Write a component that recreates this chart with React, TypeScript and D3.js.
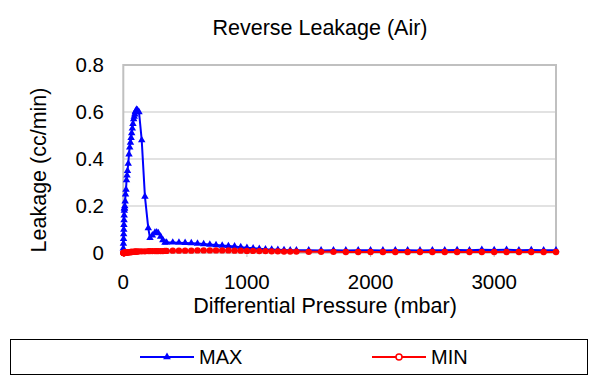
import React from "react";
import * as d3 from "d3";

const pressures = [
  0, 1, 2, 3, 4, 5, 6, 7, 8, 9, 10, 12, 15, 18, 22, 26, 30, 34, 40, 46, 52, 58, 63, 68, 73, 78, 84, 89, 93, 97, 102, 108, 115, 127,
  149, 175, 202, 216, 235, 256, 270, 283, 302, 320, 337,
  350, 400, 450, 500, 550, 600, 650, 700, 750, 800, 850, 900, 950, 1000, 1050, 1100, 1150, 1200, 1250, 1300, 1350, 1400,
  1500, 1600, 1700, 1800, 1900, 2000, 2100, 2200, 2300, 2400, 2500, 2600, 2700, 2800, 2900, 3000, 3100, 3200, 3300, 3400, 3500,
];

const maxValues = [
  0.02, 0.04, 0.06, 0.08, 0.1, 0.12, 0.14, 0.16, 0.18, 0.19, 0.19, 0.2, 0.22, 0.25, 0.27, 0.31, 0.33, 0.35, 0.38, 0.42, 0.45, 0.47, 0.49, 0.51, 0.53, 0.55, 0.57, 0.58, 0.59, 0.6, 0.605, 0.61, 0.607, 0.6,
  0.48, 0.24, 0.106, 0.064, 0.075, 0.087, 0.088, 0.085, 0.07, 0.055, 0.044,
  0.045, 0.045, 0.044, 0.043, 0.042, 0.04, 0.038, 0.036, 0.034, 0.032, 0.03, 0.028, 0.025, 0.022, 0.02, 0.018, 0.016, 0.015, 0.014, 0.013, 0.012, 0.012,
  0.012, 0.011, 0.012, 0.011, 0.012, 0.012, 0.011, 0.012, 0.012, 0.011, 0.012, 0.012, 0.013, 0.012, 0.014, 0.013, 0.014, 0.012, 0.013, 0.012, 0.012,
];

const minValues = [
  0, 0, 0, 0, 0, 0, 0, 0, 0, 0, 0, 0, 0.001, 0.001, 0.001, 0.002, 0.002, 0.002, 0.003, 0.003, 0.003, 0.004, 0.004, 0.004, 0.005, 0.005, 0.005, 0.005, 0.006, 0.006, 0.006, 0.006, 0.006, 0.007,
  0.007, 0.007, 0.008, 0.008, 0.008, 0.008, 0.008, 0.008, 0.008, 0.008, 0.009,
  0.009, 0.01, 0.01, 0.01, 0.01, 0.011, 0.011, 0.011, 0.011, 0.011, 0.011, 0.01, 0.01, 0.009, 0.009, 0.008, 0.008, 0.007, 0.007, 0.006, 0.006, 0.006,
  0.005, 0.005, 0.005, 0.004, 0.004, 0.004, 0.004, 0.004, 0.004, 0.004, 0.004, 0.004, 0.004, 0.004, 0.004, 0.004, 0.004, 0.004, 0.004, 0.004, 0.004,
];

const yTicks = [0, 0.2, 0.4, 0.6, 0.8];
const xTicks = [0, 1000, 2000, 3000];
const seriesNames = ["MAX", "MIN"];
const titleText = "Reverse Leakage (Air)";
const xLabel = "Differential Pressure (mbar)";
const yLabel = "Leakage (cc/min)";

const W = 599;
const H = 376;
const left = 123.3;
const right = 556;
const top = 65;
const bottom = 253;
const font = "'Liberation Sans', Arial, sans-serif";

export default function App() {
  const x = d3.scaleLinear().domain([0, 3500]).range([left, right]);
  const y = d3.scaleLinear().domain([0, 0.8]).range([bottom, top]);
  const maxPts: [number, number][] = pressures.map((p, i) => [x(p), y(maxValues[i])]);
  const minPts: [number, number][] = pressures.map((p, i) => [x(p), y(minValues[i])]);
  const line = d3.line();
  const tri = d3.symbol().type(d3.symbolTriangle).size(24)() as string;
  const triLeg = d3.symbol().type(d3.symbolTriangle).size(26)() as string;

  return (
    <svg width={W} height={H} style={{ position: "absolute", left: 0, top: 0, background: "#fff" }}>
      <text x={320} y={35} textAnchor="middle" fontFamily={font} fontSize={21.5} fill="#000">
        {titleText}
      </text>
      {yTicks.map((t) =>
        t > 0 ? (
          <line key={"g" + t} x1={left} x2={right} y1={y(t)} y2={y(t)} stroke="#d9d9d9" strokeWidth={1.5} />
        ) : null
      )}
      <path
        d={`M${left},${bottom}V${top}H${right}V${bottom}`}
        fill="none"
        stroke="#c0c0c0"
        strokeWidth={2}
      />
      <line x1={left} x2={right} y1={bottom} y2={bottom} stroke="#c0c0c0" strokeWidth={1.5} />
      {xTicks.map((t) => (
        <line key={"xt" + t} x1={x(t)} x2={x(t)} y1={bottom} y2={bottom + 4} stroke="#c0c0c0" strokeWidth={1} />
      ))}
      {yTicks.map((t) => (
        <text key={"yl" + t} x={104} y={y(t) + 7.3} textAnchor="end" fontFamily={font} fontSize={20.5} fill="#000">
          {t === 0 ? "0" : t.toFixed(1)}
        </text>
      ))}
      {xTicks.map((t) => (
        <text key={"xl" + t} x={x(t)} y={288.5} textAnchor="middle" fontFamily={font} fontSize={20.5} fill="#000">
          {t}
        </text>
      ))}
      <text x={325} y={313} textAnchor="middle" fontFamily={font} fontSize={21.5} fill="#000">
        {xLabel}
      </text>
      <text
        transform={`translate(46,170) rotate(-90)`}
        textAnchor="middle"
        fontFamily={font}
        fontSize={21.5}
        fill="#000"
      >
        {yLabel}
      </text>

      <path d={line(maxPts) as string} fill="none" stroke="#0000ff" strokeWidth={2} />
      {maxPts.map((p, i) => (
        <path key={"mt" + i} d={tri} transform={`translate(${p[0]},${p[1]})`} fill="#0000ff" />
      ))}
      <path d={line(minPts) as string} fill="none" stroke="#ff0000" strokeWidth={2} />
      {minPts.map((p, i) => (
        <circle key={"mc" + i} cx={p[0]} cy={p[1]} r={3.2} fill="#ff0000" />
      ))}

      <rect x={10.5} y={339.5} width={577} height={35} fill="#fff" stroke="#000" strokeWidth={1} />
      <line x1={140} x2={194} y1={357} y2={357} stroke="#0000ff" strokeWidth={2} />
      <path d={triLeg} transform="translate(167,357)" fill="#0000ff" />
      <text x={199} y={364} fontFamily={font} fontSize={20} fill="#000">
        {seriesNames[0]}
      </text>
      <line x1={372} x2={426} y1={357} y2={357} stroke="#ff0000" strokeWidth={2} />
      <circle cx={399} cy={357} r={3} fill="#fff" stroke="#ff0000" strokeWidth={1.5} />
      <text x={431} y={364} fontFamily={font} fontSize={20} fill="#000">
        {seriesNames[1]}
      </text>
    </svg>
  );
}
